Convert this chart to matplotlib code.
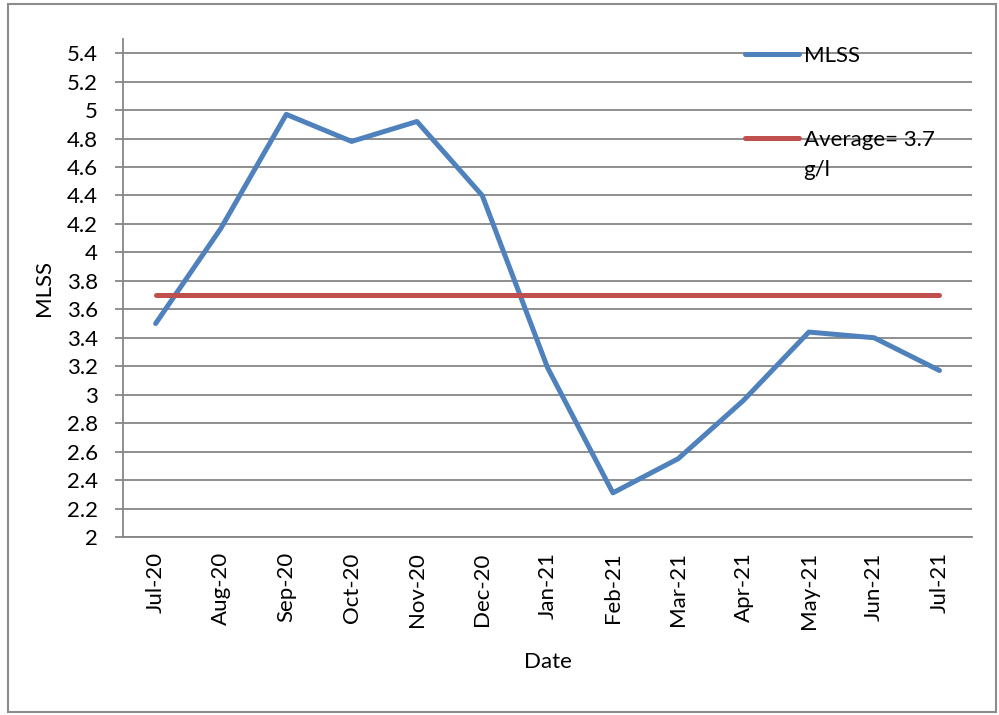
import matplotlib
matplotlib.use("Agg")
import matplotlib.pyplot as plt
from matplotlib.patches import Rectangle

# data
months = ["Jul-20", "Aug-20", "Sep-20", "Oct-20", "Nov-20", "Dec-20", "Jan-21",
          "Feb-21", "Mar-21", "Apr-21", "May-21", "Jun-21", "Jul-21"]
mlss = [3.50, 4.17, 4.97, 4.78, 4.92, 4.40, 3.19, 2.31, 2.55, 2.96, 3.44, 3.40, 3.17]
average = [3.7] * len(months)
yticks = [round(2 + 0.2 * i, 1) for i in range(18)]
ytick_labels = ["%g" % v for v in yticks]

plt.rcParams['font.family'] = ['Lato', 'DejaVu Sans']
grid_c = "#868686"
fs = 16

fig = plt.figure(figsize=(9.99, 7.15), dpi=100)
ax = fig.add_axes([0.1231, 0.249, 0.850, 0.6965])

x = list(range(len(months)))
ax.plot(x, mlss, color="#4F81BD", lw=3.6, solid_capstyle="round", label="MLSS", zorder=3)
ax.plot(x, average, color="#C0504D", lw=3.6, solid_capstyle="round", label="Average= 3.7", zorder=3)

ax.set_xlim(-0.5, len(months) - 0.5)
ax.set_ylim(2, 5.5)
ax.set_yticks(yticks)
ax.set_yticklabels(ytick_labels, fontsize=fs)
ax.set_xticks(x)
ax.set_xticklabels(months, rotation=90, fontsize=fs)
ax.tick_params(axis="y", length=6, width=1.3, color=grid_c, pad=12)
ax.tick_params(axis="x", length=0, pad=11)
ax.yaxis.grid(True, color=grid_c, lw=1.3)
ax.set_axisbelow(True)
for s in ["top", "right"]:
    ax.spines[s].set_visible(False)
for s in ["left", "bottom"]:
    ax.spines[s].set_color(grid_c)
    ax.spines[s].set_linewidth(1.3)

ax.set_ylabel("MLSS", fontsize=fs, labelpad=9)
ax.set_xlabel("Date", fontsize=fs, labelpad=16)

# legend: handles on the 5.4 and 4.8 gridlines, second label wraps
leg = ax.legend(loc="upper left", bbox_to_anchor=(0.7323, 0.986), frameon=False,
                fontsize=fs, handlelength=2.45, handletextpad=0.2, labelspacing=2.87,
                borderaxespad=0, borderpad=0)
fig.canvas.draw()
bb = leg.get_texts()[1].get_window_extent()
inv = fig.transFigure.inverted()
x0, y0 = inv.transform((bb.x0, bb.y0))
fig.text(x0, y0 - 10 / 715, "g/l", fontsize=fs, va="top", ha="left")

fig.patches.append(Rectangle((0.008, 0.004), 0.989, 0.99, transform=fig.transFigure,
                             fill=False, edgecolor="#8c8c8c", lw=1.5))

fig.savefig("out.png", dpi=100)
